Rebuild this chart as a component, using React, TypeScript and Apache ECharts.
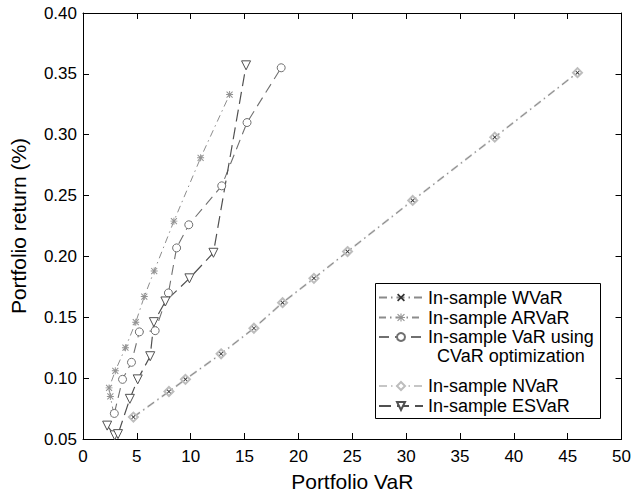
import React, { useEffect, useRef } from "react";
import * as echarts from "echarts";

// ---- data ----
const xTickMin = 0;
const xTickMax = 50;
const xTickStep = 5;
const yTickMin = 0.05;
const yTickMax = 0.4;
const yTickStep = 0.05;

const wvarX = [4.68, 7.98, 9.51, 12.82, 15.87, 18.53, 21.44, 24.56, 30.61, 38.23, 45.91];
const wvarY = [0.068, 0.089, 0.099, 0.12, 0.141, 0.162, 0.182, 0.204, 0.246, 0.298, 0.351];

const nvarX = [4.68, 7.98, 9.51, 12.82, 15.87, 18.53, 21.44, 24.56, 30.61, 38.23, 45.91];
const nvarY = [0.068, 0.089, 0.099, 0.12, 0.141, 0.162, 0.182, 0.204, 0.246, 0.298, 0.351];

const arvarX = [2.85, 2.54, 2.42, 3.0, 3.94, 4.9, 5.69, 6.61, 8.44, 10.92, 13.61];
const arvarY = [0.071, 0.085, 0.092, 0.106, 0.125, 0.146, 0.167, 0.188, 0.229, 0.281, 0.333];

const cvarX = [2.91, 3.67, 4.5, 5.23, 6.7, 7.93, 8.69, 9.82, 12.88, 15.23, 18.4];
const cvarY = [0.071, 0.099, 0.113, 0.138, 0.139, 0.17, 0.207, 0.226, 0.258, 0.31, 0.355];

const esvarX = [2.24, 2.94, 3.25, 4.35, 5.08, 6.24, 6.58, 7.65, 9.88, 12.11, 15.14];
const esvarY = [0.061, 0.053, 0.054, 0.083, 0.099, 0.118, 0.146, 0.163, 0.182, 0.203, 0.357];

const seriesNames = [
  "In-sample WVaR",
  "In-sample ARVaR",
  "In-sample VaR using",
  "In-sample NVaR",
  "In-sample ESVaR",
];
const cvarSecondLine = "CVaR optimization";
const xAxisTitle = "Portfolio VaR";
const yAxisTitle = "Portfolio return (%)";

// ---- styling ----
const FONT = "'Liberation Sans', Arial, Helvetica, sans-serif";
const ASTERISK =
  "path://M4.3,0H5.7V10H4.3Z M0,4.3H10V5.7H0Z M1.2,0.2L9.8,8.8L8.8,9.8L0.2,1.2Z M8.8,0.2L9.8,1.2L1.2,9.8L0.2,8.8Z";
const CROSS = "path://M0,1.5L1.5,0L10,8.5L8.5,10Z M8.5,0L10,1.5L1.5,10L0,8.5Z";
const TRI_DOWN = "path://M0,0L10,0L5,9Z";

function pts(xs: number[], ys: number[]) {
  return xs.map((x, i) => [x, ys[i]]);
}

export default function App() {
  const ref = useRef<HTMLDivElement>(null);

  useEffect(() => {
    if (!ref.current) return;
    const chart = echarts.init(ref.current, undefined, { renderer: "svg" });

    const legendRows = [297.5, 317.5, 337, 386, 406];
    const legends = seriesNames.map((name, i) => ({
      show: true,
      data: [name],
      left: 378,
      top: legendRows[i] - 9,
      orient: "vertical",
      itemWidth: 44,
      itemHeight: 10,
      itemGap: 0,
      padding: 0,
      selectedMode: false,
      textStyle: { fontFamily: FONT, fontSize: 18, color: "#000", lineHeight: 18 },
    }));

    const axisCommonX = {
      type: "value",
      min: xTickMin,
      max: xTickMax,
      interval: xTickStep,
      splitLine: { show: false },
      axisLine: { show: true, onZero: false, lineStyle: { color: "#000", width: 1 } },
      axisTick: { show: true, inside: true, length: 6, lineStyle: { color: "#000", width: 1 } },
    };
    const axisCommonY = {
      type: "value",
      min: yTickMin,
      max: yTickMax,
      interval: yTickStep,
      splitLine: { show: false },
      axisLine: { show: true, onZero: false, lineStyle: { color: "#000", width: 1 } },
      axisTick: { show: true, inside: true, length: 6, lineStyle: { color: "#000", width: 1 } },
    };

    chart.setOption({
      animation: false,
      backgroundColor: "#fff",
      grid: { left: 82, right: 7, top: 13, bottom: 61, containLabel: false },
      legend: legends,
      xAxis: [
        {
          ...axisCommonX,
          position: "bottom",
          name: xAxisTitle,
          nameLocation: "middle",
          nameGap: 32,
          nameTextStyle: { fontFamily: FONT, fontSize: 21, color: "#000" },
          axisLabel: { fontFamily: FONT, fontSize: 17, color: "#000", margin: 9 },
        },
        { ...axisCommonX, position: "top", axisLabel: { show: false } },
      ],
      yAxis: [
        {
          ...axisCommonY,
          position: "left",
          name: yAxisTitle,
          nameLocation: "middle",
          nameGap: 54,
          nameTextStyle: { fontFamily: FONT, fontSize: 21, color: "#000" },
          axisLabel: {
            fontFamily: FONT,
            fontSize: 17,
            color: "#000",
            margin: 6,
            formatter: (v: number) => v.toFixed(2),
          },
        },
        { ...axisCommonY, position: "right", axisLabel: { show: false } },
      ],
      series: [
        {
          name: seriesNames[3],
          type: "line",
          data: pts(nvarX, nvarY),
          symbol: "emptyDiamond",
          symbolSize: 9,
          lineStyle: { color: "#c6c6c6", width: 2, type: [8, 4, 1.5, 4] },
          itemStyle: { color: "#bdbdbd", borderColor: "#bdbdbd", borderWidth: 1.4 },
        },
        {
          name: seriesNames[0],
          type: "line",
          data: pts(wvarX, wvarY),
          symbol: CROSS,
          symbolSize: 4,
          lineStyle: { color: "#8a8a8a", width: 1, type: [8, 4, 1.5, 4] },
          itemStyle: { color: "#333" },
        },
        {
          name: seriesNames[1],
          type: "line",
          data: pts(arvarX, arvarY),
          symbol: ASTERISK,
          symbolSize: 7,
          lineStyle: { color: "#8c8c8c", width: 1, type: [7, 4, 1.5, 4] },
          itemStyle: { color: "#939393" },
        },
        {
          name: seriesNames[2],
          type: "line",
          data: pts(cvarX, cvarY),
          symbol: "circle",
          symbolSize: 8,
          lineStyle: { color: "#707070", width: 1.1, type: [10, 6] },
          itemStyle: { color: "#ffffff", borderColor: "#707070", borderWidth: 1 },
        },
        {
          name: seriesNames[4],
          type: "line",
          data: pts(esvarX, esvarY),
          symbol: TRI_DOWN,
          symbolSize: 9,
          lineStyle: { color: "#505050", width: 1.2, type: [12, 6] },
          itemStyle: { color: "#ffffff", borderColor: "#505050", borderWidth: 1 },
        },
      ],
      graphic: [
        {
          type: "rect",
          z: 3,
          shape: { x: 375.5, y: 283.5, width: 225, height: 135 },
          style: { fill: "#fff", stroke: "#000", lineWidth: 1 },
        },
        {
          type: "text",
          z: 5,
          x: 437,
          y: 356,
          style: {
            text: cvarSecondLine,
            fontFamily: FONT,
            fontSize: 18,
            fill: "#000",
            verticalAlign: "middle",
            align: "left",
          },
        },
      ],
    });

    return () => chart.dispose();
  }, []);

  return (
    <div
      ref={ref}
      style={{ position: "absolute", left: 0, top: 0, width: 634, height: 500 }}
    />
  );
}
